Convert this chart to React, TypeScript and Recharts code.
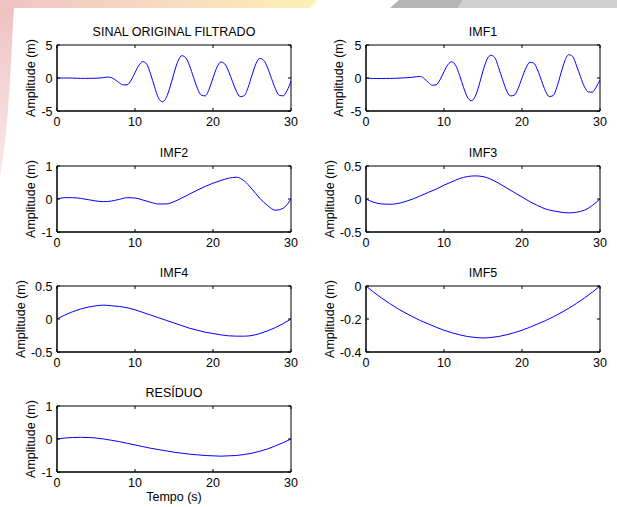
import React from 'react';
import { LineChart, Line, XAxis, YAxis, ReferenceArea } from 'recharts';

const T_FINE = [
  0, 0.5, 1, 1.5, 2, 2.5, 3, 3.5, 4, 4.5,
  5, 5.5, 6, 6.5, 7, 7.5, 8, 8.5, 9, 9.5,
  10, 10.5, 11, 11.5, 12, 12.5, 13, 13.5, 14, 14.5,
  15, 15.5, 16, 16.5, 17, 17.5, 18, 18.5, 19, 19.5,
  20, 20.5, 21, 21.5, 22, 22.5, 23, 23.5, 24, 24.5,
  25, 25.5, 26, 26.5, 27, 27.5, 28, 28.5, 29, 29.5,
  30,
];

const T_COARSE = [
  0, 1, 2, 3, 4, 5, 6, 7, 8, 9,
  10, 11, 12, 13, 14, 15, 16, 17, 18, 19,
  20, 21, 22, 23, 24, 25, 26, 27, 28, 29,
  30,
];

const SINAL = [
  0, 0, 0, 0, -0.02, -0.04, -0.05, -0.05, -0.05, -0.04,
  -0.03, 0, 0.07, 0.14, 0.05, -0.3, -0.74, -1.04, -1.03, -0.34,
  0.82, 1.92, 2.48, 2.1, 0.6, -1.3, -3.0, -3.6, -3.0, -1.34,
  0.73, 2.52, 3.38, 3.07, 1.85, 0.11, -1.56, -2.6, -2.71, -1.7,
  0.0, 1.61, 2.42, 2.14, 1.02, -0.55, -2.0, -2.83, -2.68, -1.43,
  0.43, 2.14, 2.97, 2.69, 1.55, -0.07, -1.64, -2.63, -2.7, -1.9,
  -0.5,
];

const IMF1 = [
  -0.02, -0.05, -0.07, -0.08, -0.08, -0.07, -0.06, -0.05, -0.03, 0,
  0.03, 0.07, 0.12, 0.2, 0.22, -0.12, -0.68, -1.1, -1.04, -0.25,
  0.96, 2.03, 2.45, 1.89, 0.41, -1.41, -2.89, -3.45, -2.79, -1.07,
  1.07, 2.79, 3.45, 3.12, 1.57, -0.2, -1.83, -2.71, -2.62, -1.59,
  -0.01, 1.5, 2.37, 2.26, 1.21, -0.4, -1.94, -2.82, -2.65, -1.29,
  0.75, 2.62, 3.53, 3.25, 1.82, 0.19, -1.31, -2.11, -2.15, -1.4,
  -0.3,
];

const IMF2 = [
  0, 0.04, 0.04, 0.02, -0.02, -0.06, -0.08, -0.06, -0.01, 0.04,
  0.03, -0.03, -0.1, -0.15, -0.15, -0.08, 0.03, 0.15, 0.27, 0.38,
  0.48, 0.56, 0.63, 0.66, 0.55, 0.3, 0.02, -0.2, -0.34, -0.28,
  0,
];

const IMF3 = [
  0, -0.05, -0.075, -0.08, -0.07, -0.04, 0.0, 0.05, 0.1, 0.15,
  0.21, 0.26, 0.31, 0.34, 0.35, 0.34, 0.3, 0.24, 0.17, 0.1,
  0.03, -0.04, -0.1, -0.15, -0.18, -0.2, -0.21, -0.2, -0.17, -0.1,
  0,
];

const IMF4 = [
  0, 0.06, 0.11, 0.15, 0.18, 0.2, 0.21, 0.2, 0.19, 0.17,
  0.14, 0.1, 0.06, 0.02, -0.02, -0.06, -0.1, -0.14, -0.17, -0.2,
  -0.22, -0.24, -0.255, -0.26, -0.26, -0.25, -0.22, -0.18, -0.13, -0.07,
  0,
];

const IMF5 = [
  0, -0.038, -0.073, -0.105, -0.135, -0.162, -0.187, -0.21, -0.23, -0.25,
  -0.268, -0.283, -0.296, -0.306, -0.312, -0.315, -0.312, -0.306, -0.296, -0.283,
  -0.268, -0.25, -0.23, -0.21, -0.187, -0.162, -0.135, -0.105, -0.073, -0.038,
  0,
];

const RESIDUO = [
  0, 0.03, 0.045, 0.05, 0.045, 0.03, 0.0, -0.04, -0.08, -0.13,
  -0.18, -0.23, -0.28, -0.32, -0.36, -0.4, -0.43, -0.46, -0.48, -0.5,
  -0.51, -0.52, -0.51, -0.5, -0.47, -0.43, -0.37, -0.3, -0.21, -0.11,
  0,
];

const X_TICKS = [0, 10, 20, 30];
const TITLES = ['SINAL ORIGINAL FILTRADO', 'IMF1', 'IMF2', 'IMF3', 'IMF4', 'IMF5', 'RESÍDUO'];
const Y_LABEL = 'Amplitude (m)';
const X_LABEL = 'Tempo (s)';

const FONT = '"Liberation Sans", Arial, Helvetica, sans-serif';
const FS = 12.5;
const PW = 234;
const PH = 66;
const ML = 70;
const MT = 30;
const MR = 10;
const MB = 40;

const build = (ts: number[], vs: number[]) => ts.map((t, i) => ({ t, v: vs[i] }));

const XTick = (props: any) => {
  const { x, y, payload } = props;
  return (
    <g>
      <line x1={x} y1={y} x2={x} y2={y - 3} stroke="#000" strokeWidth={1} />
      <line x1={x} y1={y - PH} x2={x} y2={y - PH + 3} stroke="#000" strokeWidth={1} />
      <text x={x} y={y + 15} textAnchor="middle" fontFamily={FONT} fontSize={FS} fill="#000">
        {String(payload.value)}
      </text>
    </g>
  );
};

const YTick = (props: any) => {
  const { x, y, payload } = props;
  return (
    <g>
      <line x1={x} y1={y} x2={x + 3} y2={y} stroke="#000" strokeWidth={1} />
      <line x1={x + PW} y1={y} x2={x + PW - 3} y2={y} stroke="#000" strokeWidth={1} />
      <text x={x - 4.5} y={y + 4.5} textAnchor="end" fontFamily={FONT} fontSize={FS} fill="#000">
        {String(payload.value)}
      </text>
    </g>
  );
};

type PanelProps = {
  left: number;
  top: number;
  title: string;
  ts: number[];
  vs: number[];
  domain: [number, number];
  ticks: number[];
  labelDist: number;
  xLabel?: string;
};

const Panel = ({ left, top, title, ts, vs, domain, ticks, labelDist, xLabel }: PanelProps) => {
  const data = build(ts, vs);
  const titleLabel = (p: any) => {
    const vb = p.viewBox || {};
    return (
      <text x={vb.x + vb.width / 2} y={vb.y - 9} textAnchor="middle" fontFamily={FONT} fontSize={FS} fill="#000">
        {title}
      </text>
    );
  };
  const yLabel = (p: any) => {
    const vb = p.viewBox || {};
    const cx = vb.x + vb.width - labelDist;
    const cy = vb.y + vb.height / 2;
    return (
      <text
        x={cx}
        y={cy}
        transform={`rotate(-90 ${cx} ${cy})`}
        textAnchor="middle"
        dominantBaseline="central"
        fontFamily={FONT}
        fontSize={FS}
        fill="#000"
      >
        {Y_LABEL}
      </text>
    );
  };
  const xLabelFn = (p: any) => {
    const vb = p.viewBox || {};
    return (
      <text x={vb.x + vb.width / 2} y={vb.y + 29} textAnchor="middle" fontFamily={FONT} fontSize={FS} fill="#000">
        {xLabel}
      </text>
    );
  };
  return (
    <div style={{ position: 'absolute', left: left - ML, top: top - MT }}>
      <LineChart
        width={ML + PW + MR}
        height={MT + PH + MB}
        data={data}
        margin={{ top: MT, right: MR, left: 0, bottom: 0 }}
      >
        <XAxis
          dataKey="t"
          type="number"
          domain={[0, 30]}
          ticks={X_TICKS}
          interval={0}
          tick={<XTick />}
          tickLine={false}
          tickSize={0}
          tickMargin={0}
          axisLine={{ stroke: '#000', strokeWidth: 1 }}
          height={MB}
          label={xLabel ? xLabelFn : undefined}
        />
        <YAxis
          type="number"
          domain={domain}
          ticks={ticks}
          interval={0}
          tick={<YTick />}
          tickLine={false}
          tickSize={0}
          tickMargin={0}
          axisLine={{ stroke: '#000', strokeWidth: 1 }}
          width={ML}
          allowDataOverflow
          label={yLabel}
        />
        <ReferenceArea
          x1={0}
          x2={30}
          y1={domain[0]}
          y2={domain[1]}
          fill="none"
          fillOpacity={0}
          stroke="#000"
          strokeWidth={1}
          strokeOpacity={1}
          ifOverflow="visible"
          label={titleLabel}
        />
        <Line
          dataKey="v"
          type="monotone"
          stroke="#0000ff"
          strokeWidth={1}
          dot={false}
          activeDot={false}
          isAnimationActive={false}
        />
      </LineChart>
    </div>
  );
};

const Decor = () => (
  <svg width={617} height={507} style={{ position: 'absolute', left: 0, top: 0 }}>
    <defs>
      <linearGradient id="topband" x1="0" y1="0" x2="1" y2="0">
        <stop offset="0" stopColor="#efc3c3" />
        <stop offset="0.55" stopColor="#f8dcc0" />
        <stop offset="1" stopColor="#fdf0b2" />
      </linearGradient>
      <linearGradient id="leftarc" x1="0" y1="0" x2="0" y2="1">
        <stop offset="0" stopColor="#efc2c2" />
        <stop offset="1" stopColor="#fbeaea" />
      </linearGradient>
    </defs>
    <path d="M0,0 L317,0 L310,8 L0,8 Z" fill="url(#topband)" />
    <path d="M399,0 L463,0 L458,8 L390,8 Z" fill="#b5b5b5" />
    <path d="M463,0 L617,0 L617,8 L458,8 Z" fill="#d0d0d0" />
    <path d="M0,8 L14,8 C11,50 10,120 0,178 Z" fill="url(#leftarc)" />
  </svg>
);

export default function App() {
  return (
    <div style={{ position: 'absolute', left: 0, top: 0, width: 617, height: 507, background: '#fff', overflow: 'hidden' }}>
      <Decor />
      <Panel left={57} top={45} title={TITLES[0]} ts={T_FINE} vs={SINAL} domain={[-5, 5]} ticks={[-5, 0, 5]} labelDist={26.5} />
      <Panel left={366} top={45} title={TITLES[1]} ts={T_FINE} vs={IMF1} domain={[-5, 5]} ticks={[-5, 0, 5]} labelDist={27.5} />
      <Panel left={57} top={166} title={TITLES[2]} ts={T_COARSE} vs={IMF2} domain={[-1, 1]} ticks={[-1, 0, 1]} labelDist={26.5} />
      <Panel left={366} top={166} title={TITLES[3]} ts={T_COARSE} vs={IMF3} domain={[-0.5, 0.5]} ticks={[-0.5, 0, 0.5]} labelDist={36.5} />
      <Panel left={57} top={286} title={TITLES[4]} ts={T_COARSE} vs={IMF4} domain={[-0.5, 0.5]} ticks={[-0.5, 0, 0.5]} labelDist={36.5} />
      <Panel left={366} top={286} title={TITLES[5]} ts={T_COARSE} vs={IMF5} domain={[-0.4, 0]} ticks={[-0.4, -0.2, 0]} labelDist={36.5} />
      <Panel left={57} top={406} title={TITLES[6]} ts={T_COARSE} vs={RESIDUO} domain={[-1, 1]} ticks={[-1, 0, 1]} labelDist={26.5} xLabel={X_LABEL} />
    </div>
  );
}
